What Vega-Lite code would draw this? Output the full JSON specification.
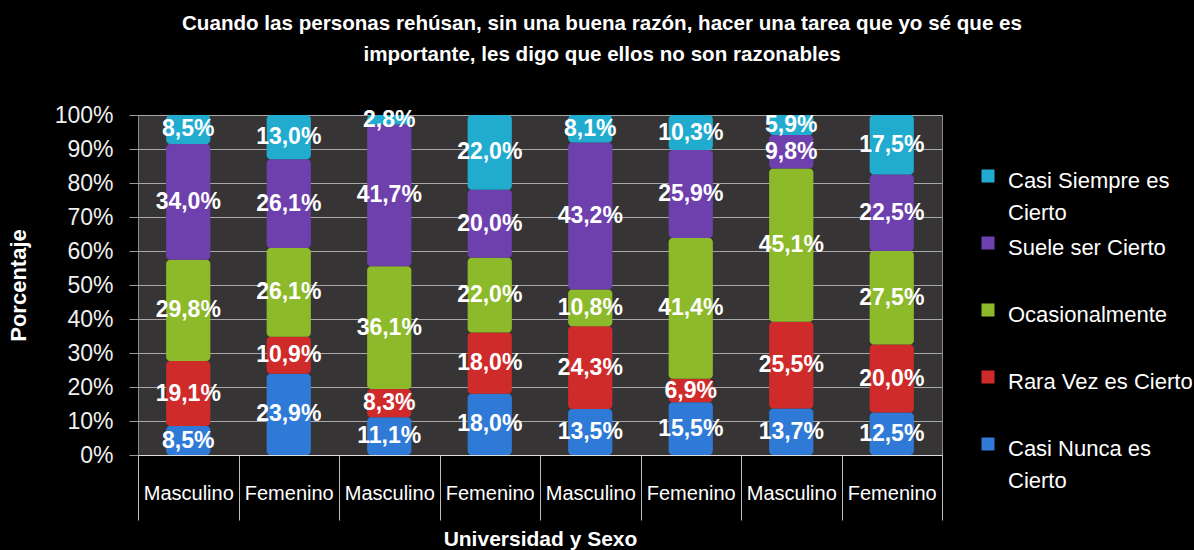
{
  "$schema": "https://vega.github.io/schema/vega-lite/v6.json",
  "width": 804,
  "height": 340,
  "autosize": {"type": "none"},
  "padding": {"left": 138, "top": 115, "right": 252, "bottom": 95},
  "background": "#000000",
  "config": {
    "locale": {"number": {"decimal": ",", "thousands": ".", "grouping": [3], "currency": ["", " €"]}},
    "view": {"fill": "#363434", "stroke": "#8a8a8a"},
    "font": "Liberation Sans"
  },
  "title": {
    "text": ["Cuando las personas rehúsan, sin una buena razón, hacer una tarea que yo sé que es", "importante, les digo que ellos no son razonables"],
    "color": "#ffffff",
    "fontSize": 20.6,
    "fontWeight": "bold",
    "font": "Liberation Sans",
    "lineHeight": 31,
    "anchor": "middle",
    "dx": 62,
    "offset": 38
  },
  "data": {
    "values": [
      {"grupo": "1|Masculino", "respuesta": "Casi Nunca es Cierto", "p": 0.085},
      {"grupo": "1|Masculino", "respuesta": "Rara Vez es Cierto", "p": 0.191},
      {"grupo": "1|Masculino", "respuesta": "Ocasionalmente", "p": 0.298},
      {"grupo": "1|Masculino", "respuesta": "Suele ser Cierto", "p": 0.340},
      {"grupo": "1|Masculino", "respuesta": "Casi Siempre es Cierto", "p": 0.085},
      {"grupo": "2|Femenino", "respuesta": "Casi Nunca es Cierto", "p": 0.239},
      {"grupo": "2|Femenino", "respuesta": "Rara Vez es Cierto", "p": 0.109},
      {"grupo": "2|Femenino", "respuesta": "Ocasionalmente", "p": 0.261},
      {"grupo": "2|Femenino", "respuesta": "Suele ser Cierto", "p": 0.261},
      {"grupo": "2|Femenino", "respuesta": "Casi Siempre es Cierto", "p": 0.130},
      {"grupo": "3|Masculino", "respuesta": "Casi Nunca es Cierto", "p": 0.111},
      {"grupo": "3|Masculino", "respuesta": "Rara Vez es Cierto", "p": 0.083},
      {"grupo": "3|Masculino", "respuesta": "Ocasionalmente", "p": 0.361},
      {"grupo": "3|Masculino", "respuesta": "Suele ser Cierto", "p": 0.417},
      {"grupo": "3|Masculino", "respuesta": "Casi Siempre es Cierto", "p": 0.028},
      {"grupo": "4|Femenino", "respuesta": "Casi Nunca es Cierto", "p": 0.180},
      {"grupo": "4|Femenino", "respuesta": "Rara Vez es Cierto", "p": 0.180},
      {"grupo": "4|Femenino", "respuesta": "Ocasionalmente", "p": 0.220},
      {"grupo": "4|Femenino", "respuesta": "Suele ser Cierto", "p": 0.200},
      {"grupo": "4|Femenino", "respuesta": "Casi Siempre es Cierto", "p": 0.220},
      {"grupo": "5|Masculino", "respuesta": "Casi Nunca es Cierto", "p": 0.135},
      {"grupo": "5|Masculino", "respuesta": "Rara Vez es Cierto", "p": 0.243},
      {"grupo": "5|Masculino", "respuesta": "Ocasionalmente", "p": 0.108},
      {"grupo": "5|Masculino", "respuesta": "Suele ser Cierto", "p": 0.432},
      {"grupo": "5|Masculino", "respuesta": "Casi Siempre es Cierto", "p": 0.081},
      {"grupo": "6|Femenino", "respuesta": "Casi Nunca es Cierto", "p": 0.155},
      {"grupo": "6|Femenino", "respuesta": "Rara Vez es Cierto", "p": 0.069},
      {"grupo": "6|Femenino", "respuesta": "Ocasionalmente", "p": 0.414},
      {"grupo": "6|Femenino", "respuesta": "Suele ser Cierto", "p": 0.259},
      {"grupo": "6|Femenino", "respuesta": "Casi Siempre es Cierto", "p": 0.103},
      {"grupo": "7|Masculino", "respuesta": "Casi Nunca es Cierto", "p": 0.137},
      {"grupo": "7|Masculino", "respuesta": "Rara Vez es Cierto", "p": 0.255},
      {"grupo": "7|Masculino", "respuesta": "Ocasionalmente", "p": 0.451},
      {"grupo": "7|Masculino", "respuesta": "Suele ser Cierto", "p": 0.098},
      {"grupo": "7|Masculino", "respuesta": "Casi Siempre es Cierto", "p": 0.059},
      {"grupo": "8|Femenino", "respuesta": "Casi Nunca es Cierto", "p": 0.125},
      {"grupo": "8|Femenino", "respuesta": "Rara Vez es Cierto", "p": 0.200},
      {"grupo": "8|Femenino", "respuesta": "Ocasionalmente", "p": 0.275},
      {"grupo": "8|Femenino", "respuesta": "Suele ser Cierto", "p": 0.225},
      {"grupo": "8|Femenino", "respuesta": "Casi Siempre es Cierto", "p": 0.175}
    ]
  },
  "transform": [
    {"calculate": "indexof(['Casi Nunca es Cierto','Rara Vez es Cierto','Ocasionalmente','Suele ser Cierto','Casi Siempre es Cierto'], datum.respuesta)", "as": "orden"},
    {"stack": "p", "groupby": ["grupo"], "sort": [{"field": "orden", "order": "ascending"}], "offset": "normalize", "as": ["y0", "y1"]},
    {"calculate": "(datum.y0 + datum.y1) / 2", "as": "ym"}
  ],
  "encoding": {
    "x": {
      "field": "grupo",
      "type": "nominal",
      "sort": null,
      "scale": {"paddingInner": 0, "paddingOuter": 0},
      "axis": {
        "title": "Universidad y Sexo",
        "labelExpr": "split(datum.label, '|')[1]",
        "tickBand": "extent",
        "tickSize": 65,
        "tickColor": "#bdbdbd",
        "domainColor": "#dddddd",
        "labelAngle": 0,
        "labelColor": "#ffffff",
        "labelFontSize": 20,
        "labelPadding": -37,
        "titleColor": "#ffffff",
        "titleFontSize": 21,
        "titleFontWeight": "bold",
        "titlePadding": 8,
        "grid": false
      }
    }
  },
  "layer": [
    {
      "mark": {"type": "bar", "width": {"band": 0.44}, "cornerRadius": 4},
      "encoding": {
        "y": {
          "field": "y0",
          "type": "quantitative",
          "title": "Porcentaje",
          "scale": {"domain": [0, 1]},
          "axis": {
            "format": ".0%",
            "values": [0, 0.1, 0.2, 0.3, 0.4, 0.5, 0.6, 0.7, 0.8, 0.9, 1],
            "tickCount": 12,
            "labelOverlap": false,
            "grid": true,
            "gridColor": "#a8a8a8",
            "gridWidth": 1,
            "tickColor": "#999999",
            "tickSize": 9,
            "domain": false,
            "labelColor": "#f0f0f0",
            "labelFontSize": 23,
            "labelPadding": 16,
            "titleColor": "#ffffff",
            "titleFontSize": 22,
            "titleFontWeight": "bold",
            "titlePadding": 24
          }
        },
        "y2": {"field": "y1"},
        "color": {
          "field": "respuesta",
          "type": "nominal",
          "scale": {
            "domain": ["Casi Siempre es Cierto", "Suele ser Cierto", "Ocasionalmente", "Rara Vez es Cierto", "Casi Nunca es Cierto"],
            "range": ["#20abcf", "#6e40ad", "#8cba2a", "#cf2b2b", "#2f7ad6"]
          },
          "legend": {
            "title": null,
            "orient": "none",
            "legendX": 839,
            "legendY": 50,
            "padding": 0,
            "symbolType": "square",
            "symbolSize": 170,
            "symbolStrokeWidth": 0,
            "labelFontSize": 22,
            "labelColor": "#ffffff",
            "labelOffset": 9,
            "labelLimit": 250,
            "labelBaseline": "top",
            "rowPadding": 8,
            "gridAlign": "all",
            "labelExpr": "datum.label == 'Casi Siempre es Cierto' ? ['Casi Siempre es', 'Cierto'] : datum.label == 'Casi Nunca es Cierto' ? ['Casi Nunca es', 'Cierto'] : datum.label",
            "encode": {"labels": {"update": {"lineHeight": {"value": 32}, "dy": {"value": -5}}}}
          }
        }
      }
    },
    {
      "mark": {"type": "text", "color": "#ffffff", "fontWeight": "bold", "fontSize": 23},
      "encoding": {
        "y": {
          "field": "ym",
          "type": "quantitative",
          "title": "Porcentaje",
          "axis": {
            "format": ".0%",
            "values": [0, 0.1, 0.2, 0.3, 0.4, 0.5, 0.6, 0.7, 0.8, 0.9, 1],
            "tickCount": 12,
            "labelOverlap": false,
            "grid": true,
            "gridColor": "#a8a8a8",
            "gridWidth": 1,
            "tickColor": "#999999",
            "tickSize": 9,
            "domain": false,
            "labelColor": "#f0f0f0",
            "labelFontSize": 23,
            "labelPadding": 16,
            "titleColor": "#ffffff",
            "titleFontSize": 22,
            "titleFontWeight": "bold",
            "titlePadding": 24
          }
        },
        "text": {"field": "p", "type": "quantitative", "format": ".1%"}
      }
    }
  ]
}
